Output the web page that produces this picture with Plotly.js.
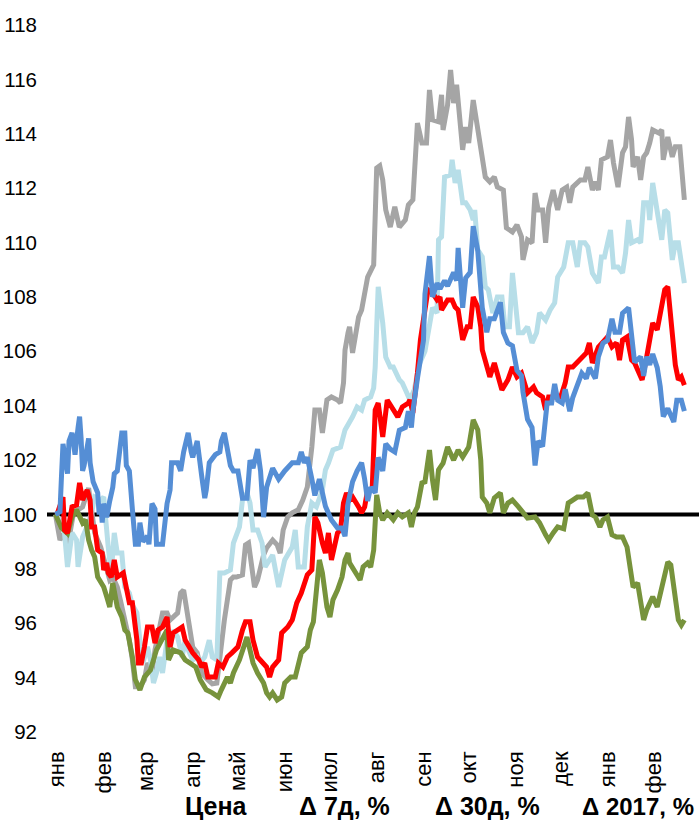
<!DOCTYPE html>
<html>
<head>
<meta charset="utf-8">
<script src="https://cdn.plot.ly/plotly-3.0.1.min.js"></script>
<style>
html,body{margin:0;padding:0;background:#fff;}
#chart{width:699px;height:826px;}
</style>
</head>
<body>
<div id="chart"></div>
<script>
// Month tick labels (start of each month)
const monthLabels = ['янв','фев','мар','апр','май','июн','июл','авг','сен','окт','ноя','дек','янв','фев'];
const monthStarts = ['2017-01-01','2017-02-01','2017-03-01','2017-04-01','2017-05-01','2017-06-01','2017-07-01','2017-08-01','2017-09-01','2017-10-01','2017-11-01','2017-12-01','2018-01-01','2018-02-01'];
const footerLabels = ['Цена','Δ 7д, %','Δ 30д, %','Δ 2017, %'];

// Series: days since 2017-01-01 and index values (start = 100)
const grayDay = [-1,2,5,7,11,14,17,21,23,25,29,31,35,37,40,42,44,46,48,50,52,55,58,60,63,65,68,70,73,75,80,82,84,86,88,90,93,96,100,103,106,107,109,111,113,115,117,119,123,125,127,129,131,133,137,139,143,146,148,150,153,156,160,163,166,169,171,174,176,179,182,186,188,190,191,193,194,196,200,202,204,206,210,212,214,216,218,221,224,227,231,233,236,239,242,245,247,249,253,255,256,259,261,263,265,267,269,271,273,276,279,282,284,287,290,292,296,298,302,305,308,309,312,315,317,319,322,324,326,329,332,335,338,340,342,347,350,352,355,357,359,361,365,367,369,372,375,377,379,381,382,385,387,389,391,393,395,399,401,402,405,408,410,413,415,416];
const grayVal = [100.0,99.06,99.32,98.80,100.06,100.17,100.28,100.97,100.17,99.32,98.80,98.33,97.59,97.70,97.33,96.86,96.38,95.86,95.38,94.65,93.66,93.66,93.92,94.54,94.17,95.02,95.86,96.38,96.38,96.12,96.38,97.11,97.22,96.60,95.75,95.13,94.91,94.17,93.92,93.77,93.80,94.28,95.38,96.12,96.86,97.59,97.70,97.70,97.78,98.88,98.95,98.25,97.33,97.59,98.51,98.77,99.06,98.88,98.58,99.43,99.91,100.06,100.17,100.53,101.01,102.48,103.84,103.84,103.0,104.21,104.32,104.21,104.10,104.84,106.05,106.68,106.90,105.94,107.26,107.52,108.15,108.73,109.18,112.74,112.82,112.30,111.20,110.57,111.31,110.57,110.83,111.38,111.57,114.39,113.66,113.66,115.61,114.51,114.44,115.43,114.14,115.06,116.35,115.13,115.80,114.58,113.41,114.25,113.66,115.24,114.07,113.04,112.41,112.23,112.41,112.04,111.93,110.54,110.39,110.65,110.21,109.36,110.10,109.99,111.82,111.20,111.20,109.99,111.27,111.93,111.20,111.93,112.04,111.46,112.04,112.30,112.30,112.78,111.93,112.23,111.93,113.04,113.15,113.77,112.93,112.04,113.30,113.52,114.62,113.77,112.78,113.15,112.30,113.15,113.30,113.66,114.14,114.03,114.14,113.04,113.88,113.15,113.52,113.52,111.93,111.57];

const lightDay = [-1,2,5,7,10,13,14,17,19,23,25,29,31,32,34,36,38,40,43,45,48,50,53,55,57,60,62,64,66,68,70,73,75,77,80,83,85,87,90,93,95,98,100,101,103,106,108,111,115,117,121,123,126,128,130,133,136,138,143,147,151,156,158,160,164,166,169,172,176,178,180,183,188,191,196,199,202,204,208,210,211,213,216,218,221,223,227,229,232,234,237,240,244,249,252,253,255,257,261,262,264,266,269,271,274,276,277,279,282,284,286,289,292,295,297,300,302,305,306,309,312,315,318,320,324,327,330,332,336,339,342,345,347,350,352,355,359,361,363,367,369,372,375,377,379,381,385,387,389,392,393,395,398,401,403,405,408,410,412,414,416];
const lightVal = [100.0,99.8,99.32,98.07,99.32,99.06,98.07,99.17,99.43,100.06,100.64,100.53,100.64,99.80,98.80,97.85,99.32,98.58,98.58,97.33,97.11,96.67,96.38,95.38,94.54,95.13,94.65,93.80,94.17,94.76,94.17,95.38,95.02,95.75,95.49,94.76,95.38,95.02,94.65,94.76,94.54,94.76,95.13,95.38,94.76,94.65,97.85,97.85,97.96,98.95,99.54,100.53,100.79,100.42,99.43,99.43,98.95,98.07,98.51,97.33,98.33,98.80,99.43,98.07,98.07,99.54,100.42,100.28,100.90,101.64,101.89,102.37,102.48,103.11,103.59,103.95,103.84,104.21,104.32,104.65,105.42,108.37,107.04,105.79,105.42,105.42,104.95,104.84,104.47,104.21,104.6,105.5,106.0,107.6,107.41,110.10,110.21,112.41,112.49,113.04,112.19,112.67,111.46,111.46,111.20,110.83,111.20,109.73,109.47,108.37,108.26,107.41,108.0,108.0,106.90,106.90,108.88,107.41,106.68,106.68,106.90,106.31,106.68,107.41,107.15,107.52,107.78,108.73,109.10,109.99,109.99,109.10,109.99,109.99,109.84,108.88,108.51,109.47,109.47,110.46,109.10,109.10,108.88,109.62,110.83,109.99,110.10,109.99,111.46,111.46,110.83,112.19,111.09,110.10,111.20,111.09,109.36,109.99,109.99,109.10,108.51];

const greenDay = [-1,3,7,10,13,17,19,21,23,25,27,31,33,35,37,40,43,45,47,50,52,55,58,62,66,70,73,74,77,82,85,88,92,95,99,103,107,109,113,115,117,121,126,130,133,137,139,141,143,146,149,151,155,158,160,162,166,168,170,172,174,176,179,181,183,186,189,191,193,194,198,201,203,206,208,210,212,214,216,219,223,226,229,233,235,237,239,242,244,247,249,251,253,256,259,263,266,269,273,276,279,281,282,285,287,290,294,296,299,302,306,309,312,317,320,324,326,329,332,336,339,342,345,349,352,355,357,360,362,365,368,371,375,378,380,382,385,389,391,395,398,401,405,407,410,412,414,416];
const greenVal = [100.0,99.5,99.3,99.91,100.17,99.69,99.80,99.06,98.69,98.44,97.70,97.33,96.97,96.60,97.48,96.60,96.23,95.75,95.64,94.76,93.92,93.55,94.02,94.28,95.02,95.49,95.75,94.65,95.02,94.91,94.65,94.54,94.39,93.92,93.55,93.44,93.29,93.55,94.02,93.80,94.17,94.65,95.49,94.54,94.17,93.80,93.44,93.29,93.44,93.18,93.29,93.80,94.02,94.02,94.39,94.91,95.13,95.75,96.05,97.48,98.33,97.85,96.60,96.23,96.86,97.22,97.70,98.33,98.58,98.22,97.85,97.59,98.07,98.22,98.07,98.69,100.72,100.06,99.80,100.06,99.80,100.06,99.91,100.06,99.54,100.06,100.28,101.16,101.20,102.37,101.27,100.53,101.64,101.89,102.48,102.00,102.37,102.11,102.48,103.48,103.11,102.0,100.64,100.42,100.06,100.61,100.79,100.06,100.42,100.53,100.28,100.06,99.87,99.91,99.69,99.25,99.06,99.32,99.54,99.47,100.42,100.53,100.64,100.64,100.79,99.98,99.91,99.54,99.80,99.91,99.25,99.17,99.17,98.80,98.07,97.33,97.48,96.12,96.49,96.97,96.60,97.33,98.25,98.14,96.86,96.12,95.93,96.12];

const redDay = [0,4,5,7,10,13,15,17,20,22,23,25,27,30,31,33,34,36,38,40,44,46,48,50,53,54,56,58,60,63,65,67,70,73,75,77,80,83,85,90,94,96,98,100,105,107,110,113,116,118,120,123,125,128,130,133,137,139,141,143,147,149,153,156,159,162,166,169,171,173,176,178,180,182,186,188,190,192,194,196,200,202,204,206,209,211,213,216,219,223,226,229,233,234,236,239,241,246,249,252,254,255,259,262,264,266,269,272,274,276,279,281,282,287,290,295,299,302,305,308,312,316,318,322,324,326,330,334,337,339,342,347,351,353,355,359,365,368,371,373,375,378,381,383,388,391,395,398,401,403,405,408,410,412,414,416];
const redVal = [100.0,100.64,99.43,99.32,100.28,100.35,101.16,100.53,100.90,100.53,99.54,99.54,98.69,98.58,97.96,98.22,97.85,97.70,98.33,97.70,97.85,97.22,96.75,96.75,95.38,94.54,94.54,95.13,95.86,95.86,95.27,95.75,95.86,96.23,95.13,95.64,95.75,95.86,95.38,94.91,94.65,94.39,94.54,94.02,94.02,94.54,94.39,94.76,94.91,95.02,95.13,95.75,96.05,96.05,95.38,94.76,94.54,94.39,94.02,94.39,94.65,95.64,95.86,96.12,96.75,97.11,97.78,97.96,99.91,99.69,98.95,98.58,99.32,98.33,99.32,99.43,100.42,100.79,100.53,100.64,100.28,100.06,100.28,100.90,100.90,103.84,104.10,102.85,104.21,103.84,103.59,103.95,104.10,104.21,103.73,105.20,106.42,108.26,108.15,107.89,108.0,107.52,107.89,107.89,107.63,107.52,106.42,106.90,106.90,108.0,107.63,106.90,106.05,105.06,105.57,104.58,104.95,105.42,105.06,105.20,104.47,104.69,104.47,104.32,103.84,104.32,104.32,104.32,104.84,105.42,105.42,105.68,105.94,106.31,105.57,106.16,106.53,106.16,106.31,105.68,106.42,106.53,105.68,105.57,104.95,105.79,107.04,106.79,107.63,108.26,108.37,106.42,105.50,104.95,105.06,104.76];

const blueDay = [-1,2,3,4,7,8,10,12,14,15,16,17,18,21,22,24,27,28,29,30,31,33,35,37,38,40,43,45,46,48,50,52,54,55,57,60,61,63,65,66,70,73,75,76,80,82,84,87,89,90,93,95,96,98,99,101,105,108,109,111,113,115,117,120,123,126,128,130,133,135,137,139,143,147,151,156,160,162,164,166,169,171,174,178,182,186,189,191,193,196,199,202,204,206,208,211,213,216,218,221,224,227,231,233,235,236,239,241,243,244,247,249,252,254,257,259,263,265,266,269,271,274,276,279,281,282,285,287,290,294,296,299,302,305,308,309,312,315,317,319,322,325,328,330,332,335,337,340,342,345,348,351,353,357,359,362,365,368,370,373,375,379,381,383,387,389,391,393,395,398,400,402,405,409,411,414,416];
const blueVal = [100.0,100.1,101.4,102.6,101.5,102.7,103.0,102.2,103.2,103.6,102.8,101.6,101.8,102.8,101.9,101.2,100.8,100.0,100.4,99.7,100.4,99.9,100.5,101.0,101.5,101.6,103.0,103.0,101.8,101.6,100.2,98.9,98.9,99.7,99.0,99.2,98.9,100.4,100.2,98.9,98.9,100.4,100.9,101.9,101.9,101.6,102.3,103.0,102.3,102.1,102.7,102.0,101.4,100.6,100.9,101.9,102.2,102.3,102.7,103.0,102.4,101.8,101.6,101.6,100.6,100.6,102.0,101.7,102.4,101.6,99.9,101.0,101.7,101.3,101.6,101.9,101.9,102.3,101.9,102.1,101.3,100.7,101.3,100.3,99.8,99.5,99.5,99.2,100.4,101.2,101.6,101.9,101.3,100.5,101.0,100.8,102.1,101.6,102.6,102.4,102.3,103.1,103.2,103.8,103.2,103.8,105.0,105.8,106.4,108.1,109.5,108.0,108.5,108.3,108.6,108.4,108.9,108.6,109.8,107.6,108.7,108.9,110.6,109.7,108.6,107.6,106.7,107.2,107.2,107.8,106.7,106.3,106.2,105.3,105.1,104.5,103.5,103.2,101.8,102.7,102.5,104.1,104.1,104.8,104.2,104.1,104.6,103.8,104.3,104.8,105.2,105.0,105.4,105.0,105.8,106.3,106.4,107.2,106.7,106.7,107.4,107.6,106.7,105.6,105.8,105.1,105.8,105.5,105.9,105.4,104.7,103.6,103.9,103.4,104.2,104.2,103.8];

function dayToDate(d) {
  const t = Date.UTC(2017, 0, 1) + d * 86400000;
  return new Date(t).toISOString().slice(0, 19).replace('T', ' ');
}

const W = 699, H = 826;
const M = {l: 47, r: 0, t: 25, b: 94};
const plotW = W - M.l - M.r, plotH = H - M.t - M.b;
const fontMain = '"Liberation Sans", Arial, sans-serif';

function mk(days, vals, color) {
  return {
    x: days.map(dayToDate), y: vals, type: 'scatter', mode: 'lines',
    line: {color: color, width: 5}, hoverinfo: 'skip', showlegend: false
  };
}

const data = [
  mk(grayDay, grayVal, '#A5A5A5'),
  mk(lightDay, lightVal, '#B7DEE8'),
  mk(greenDay, greenVal, '#77933C'),
  mk(redDay, redVal, '#FF0000'),
  mk(blueDay, blueVal, '#558ED5')
];

const footerPx = [183, 297, 433, 580];
const footerSize = [25, 25, 25, 24];
const annotations = footerLabels.map((t, i) => ({
  text: '<b>' + t + '</b>', xref: 'paper', yref: 'paper',
  x: (footerPx[i] - M.l) / plotW, y: (M.t + plotH - 806) / plotH,
  xanchor: 'left', yanchor: 'middle', showarrow: false,
  font: {family: fontMain, size: footerSize[i], color: '#000'}
}));

const layout = {
  width: W, height: H, margin: M,
  paper_bgcolor: '#fff', plot_bgcolor: '#fff',
  showlegend: false,
  xaxis: {
    type: 'date', range: [dayToDate(-6.6), dayToDate(425.7)],
    tickmode: 'array', tickvals: monthStarts, ticktext: monthLabels,
    tickangle: -90, ticks: '', showgrid: false, zeroline: false, showline: false,
    ticklabelstandoff: 14,
    tickfont: {family: fontMain, size: 22, color: '#000'}
  },
  yaxis: {
    range: [92, 118], tickmode: 'linear', tick0: 92, dtick: 2,
    ticks: '', showgrid: false, zeroline: false, showline: false,
    ticklabelstandoff: 9,
    tickfont: {family: fontMain, size: 20.5, color: '#000'}
  },
  shapes: [{
    type: 'line', xref: 'paper', x0: 0, x1: 1, yref: 'y', y0: 100, y1: 100,
    line: {color: '#000', width: 4}, layer: 'below'
  }],
  annotations: annotations
};

Plotly.newPlot('chart', data, layout, {displayModeBar: false, staticPlot: true});
</script>
</body>
</html>
